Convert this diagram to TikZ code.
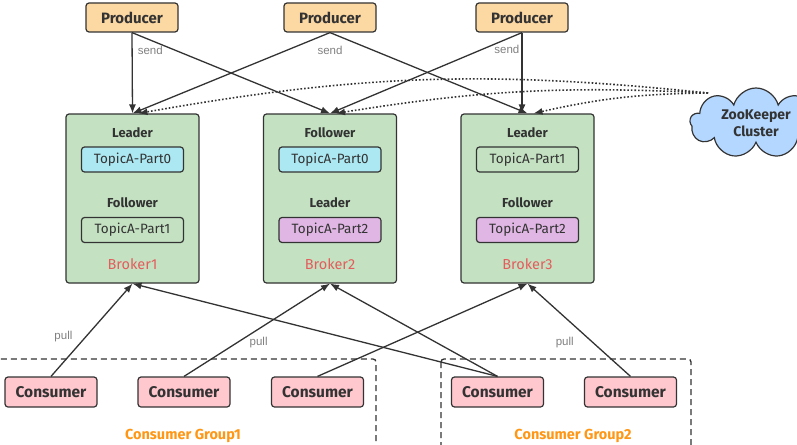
\documentclass[tikz,border=0pt]{standalone}
\usepackage{fontspec}
\setmainfont{Fira Sans}
\newfontfamily\labelfont{Liberation Sans}
\usepackage{tikz}
\usetikzlibrary{arrows.meta,positioning,shapes.symbols}
\definecolor{linegray}{RGB}{51, 51, 51}
\definecolor{prodorange}{RGB}{252, 216, 162}
\definecolor{brokergreen}{RGB}{196, 226, 194}
\definecolor{partcyan}{RGB}{172, 232, 242}
\definecolor{partpurple}{RGB}{224, 182, 228}
\definecolor{consumerpink}{RGB}{255, 199, 206}
\definecolor{zkblue}{RGB}{180, 215, 255}
\definecolor{brokerred}{RGB}{228, 92, 92}
\definecolor{grouporange}{RGB}{255, 150, 20}

\begin{document}
\begin{tikzpicture}[x=1pt, y=-1pt, every node/.style={font=\fontsize{12}{14}\selectfont, text=linegray},
    producer/.style={draw=linegray, fill=prodorange, line width=1.2pt, rounded corners=3pt, minimum width=92pt, minimum height=29pt, font=\fontsize{15}{17}\selectfont\bfseries},
    broker/.style={draw=linegray, fill=brokergreen, line width=1.2pt, rounded corners=3pt, minimum width=133pt, minimum height=169pt},
    part/.style={draw=linegray, line width=1.2pt, rounded corners=3pt, minimum width=102pt, minimum height=25pt, font=\fontsize{13.5}{15}\selectfont},
    role/.style={font=\fontsize{13}{15}\selectfont\bfseries},
    brokername/.style={text=brokerred, font=\fontsize{14.5}{16}\selectfont},
    consumer/.style={draw=linegray, fill=consumerpink, line width=1.2pt, rounded corners=3pt, minimum width=92pt, minimum height=30pt, font=\fontsize{15.5}{17}\selectfont\bfseries},
    grouplbl/.style={text=grouporange, font=\fontsize{14.5}{16}\selectfont\bfseries},
    lbl/.style={text=gray, font=\labelfont\fontsize{11.5}{13}\selectfont, inner sep=1pt},
    conn/.style={draw=linegray, line width=1.3pt, -{Latex[length=9pt, width=7pt]}},
    zkline/.style={draw=linegray, line width=1.6pt, dash pattern=on 1.6pt off 2pt, -{Latex[length=9pt, width=7pt]}},
    groupbox/.style={draw=linegray, line width=1.3pt, dash pattern=on 6pt off 4pt, rounded corners=3pt}]
    \clip (0,0) rectangle (797,444);

    % producers
    \node[producer] (p1) at (132,17.5) {Producer};
    \node[producer] (p2) at (330,17.5) {Producer};
    \node[producer] (p3) at (522,17.5) {Producer};

    % brokers
    \node[broker] (b1) at (132.5,198.5) {};
    \node[role] (b1r1) at (132.5,133) {Leader};
    \node[part, fill=partcyan] (b1t1) at (132.5,159.5) {TopicA-Part0};
    \node[role] (b1r2) at (132.5,203) {Follower};
    \node[part, fill=brokergreen] (b1t2) at (132.5,230) {TopicA-Part1};
    \node[brokername] (b1n) at (132.5,264) {Broker1};

    \node[broker] (b2) at (330,198.5) {};
    \node[role] (b2r1) at (330,133) {Follower};
    \node[part, fill=partcyan] (b2t1) at (330,159.5) {TopicA-Part0};
    \node[role] (b2r2) at (330,203) {Leader};
    \node[part, fill=partpurple] (b2t2) at (330,230) {TopicA-Part2};
    \node[brokername] (b2n) at (330,264) {Broker2};

    \node[broker] (b3) at (527.5,198.5) {};
    \node[role] (b3r1) at (527.5,133) {Leader};
    \node[part, fill=brokergreen] (b3t1) at (527.5,159.5) {TopicA-Part1};
    \node[role] (b3r2) at (527.5,203) {Follower};
    \node[part, fill=partpurple] (b3t2) at (527.5,230) {TopicA-Part2};
    \node[brokername] (b3n) at (527.5,264) {Broker3};

    % zookeeper
    \node[cloud, cloud puffs=9, cloud ignores aspect, inner sep=0pt, draw=linegray, fill=zkblue, line width=1.2pt, minimum width=132pt, minimum height=70pt, align=center, font=\fontsize{14}{17}\selectfont\bfseries] (zk) at (756,123) {ZooKeeper\\Cluster};
    \coordinate (zkin) at (708,93);

    % consumers
    \draw[groupbox] (-10,359) rectangle (376,470);
    \draw[groupbox] (441,359) rectangle (691,470);
    \node[consumer] (c1) at (51,392) {Consumer};
    \node[consumer] (c2) at (184,392) {Consumer};
    \node[consumer] (c3) at (317.5,392) {Consumer};
    \node[consumer] (c4) at (497.5,392) {Consumer};
    \node[consumer] (c5) at (630.5,392) {Consumer};
    \node[grouplbl] (g1) at (183,436) {Consumer Group1};
    \node[grouplbl] (g2) at (573,436) {Consumer Group2};

    % send
    \draw[conn] (p1.south) -- node[lbl, pos=0.22, right=4pt] (s1) {send} (b1.north);
    \draw[conn] (p1.south) -- (b2.north);
    \draw[conn] (p2.south) -- (b1.north);
    \draw[conn] (p2.south) -- (b3.north);
    \node[lbl] (s2) at (330,50) {send};
    \draw[conn] (p3.south) -- (b2.north);
    \draw[conn] (p3.south) -- node[lbl, pos=0.21, left=1pt] (s3) {send} (p3.south |- b3.north);

    % zookeeper links
    \draw[zkline] (zkin) to[bend right=8] ([xshift=6pt]b1.north);
    \draw[zkline] (zkin) to[bend right=6] ([xshift=6pt]b2.north);
    \draw[zkline] (zkin) to[bend right=6] ([xshift=6pt]b3.north);

    % pull
    \draw[conn] (c1.north) -- node[lbl, pos=0.43, left=12pt] (l1) {pull} (b1.south);
    \draw[conn] (c2.north) -- node[lbl, pos=0.37, right=10pt] (l2) {pull} (b2.south);
    \draw[conn] (c3.north) -- (b3.south);
    \draw[conn] (c4.north) -- (b1.south);
    \draw[conn] (c4.north) -- (b2.south);
    \draw[conn] (c5.north) -- node[lbl, pos=0.37, left=17pt] (l3) {pull} (b3.south);
\end{tikzpicture}
\end{document}
